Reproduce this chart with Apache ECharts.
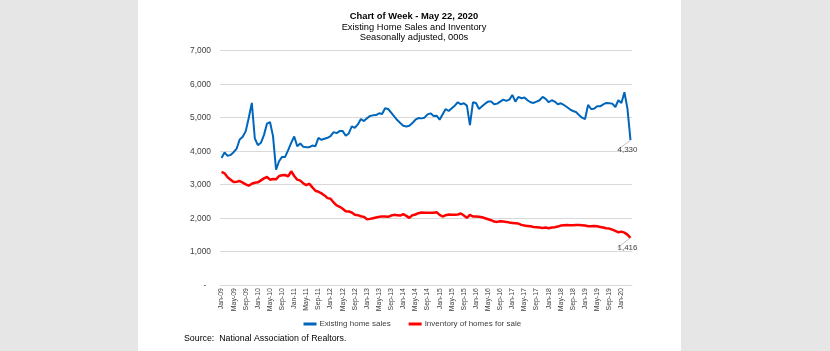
<!DOCTYPE html>
<html>
<head>
<meta charset="utf-8">
<script src="https://cdn.jsdelivr.net/npm/echarts@6/dist/echarts.min.js"></script>
<style>
  html, body { margin: 0; padding: 0; width: 830px; height: 351px; background: #e6e6e6; overflow: hidden; }
  #panel { position: absolute; left: 138px; top: 0; width: 543px; height: 351px; background: #ffffff; }
  #chart { position: absolute; left: 0; top: 0; width: 830px; height: 351px; }
</style>
</head>
<body>
<div id="panel"></div>
<div id="chart"></div>
<script>
// ---- Data (monthly, Jan-09 .. Apr-20), thousands, seasonally adjusted ----
const monthNames = ['Jan','Feb','Mar','Apr','May','Jun','Jul','Aug','Sep','Oct','Nov','Dec'];
const yearLabels = ['09','10','11','12','13','14','15','16','17','18','19','20'];
const lastYearMonths = 4; // data runs through Apr-20

const existingHomeSales = [
  3800, 3960, 3860, 3890, 3970, 4080, 4350, 4430, 4600, 5000, 5440, 4380,
  4180, 4250, 4480, 4820, 4870, 4450, 3450, 3700, 3830, 3830, 4030, 4250,
  4440, 4150, 4230, 4130, 4120, 4120, 4170, 4150, 4400, 4340, 4370, 4400,
  4450, 4570, 4540, 4600, 4600, 4460, 4530, 4740, 4700, 4800, 4960, 4900,
  4980, 5050, 5070, 5080, 5130, 5110, 5280, 5260, 5150, 5040, 4930, 4840,
  4760, 4740, 4760, 4840, 4940, 4990, 4980, 5000, 5100, 5130, 5050, 5060,
  4940, 5100, 5260, 5200, 5280, 5360, 5460, 5400, 5430, 5360, 4780, 5460,
  5440, 5260, 5340, 5420, 5480, 5480, 5400, 5420, 5480, 5540, 5500, 5540,
  5680, 5480, 5620, 5580, 5600, 5520, 5460, 5440, 5480, 5520, 5620, 5560,
  5460, 5520, 5480, 5400, 5430, 5380, 5320, 5250, 5200, 5170, 5080, 5000,
  4960, 5380, 5260, 5270, 5340, 5340, 5400, 5440, 5430, 5420, 5320, 5520,
  5440, 5760, 5270, 4330
];

const inventoryForSale = [
  3380, 3340, 3220, 3150, 3080, 3090, 3110, 3060, 3010, 2970, 3030, 3060,
  3070, 3130, 3190, 3230, 3150, 3170, 3160, 3260, 3280, 3290, 3250, 3400,
  3260, 3150, 3120, 3040, 2990, 3030, 2920, 2820, 2790, 2740, 2680, 2600,
  2580, 2470, 2380, 2340, 2280, 2210, 2200, 2170, 2100, 2090, 2060, 2040,
  1970, 1980, 2000, 2020, 2040, 2050, 2050, 2040, 2080, 2100, 2090, 2080,
  2120, 2070, 2010, 2090, 2110, 2150, 2170, 2160, 2160, 2160, 2160, 2180,
  2100, 2050, 2090, 2110, 2100, 2100, 2110, 2140, 2080, 2010, 2100, 2050,
  2050, 2040, 2030, 2000, 1970, 1940, 1900, 1890, 1910, 1900, 1890, 1870,
  1860, 1850, 1840, 1800, 1780, 1770, 1760, 1740, 1730, 1720, 1710, 1720,
  1700, 1720, 1730, 1750, 1780, 1790, 1800, 1790, 1790, 1800, 1800, 1790,
  1780, 1760, 1760, 1770, 1760, 1740, 1720, 1700, 1690, 1660, 1620, 1580,
  1600, 1570, 1510, 1416
];

const yTicks = [0, 1000, 2000, 3000, 4000, 5000, 6000, 7000];
const seriesNames = ['Existing home sales', 'Inventory of homes for sale'];
const titleLines = ['Chart of Week - May 22, 2020', 'Existing Home Sales and Inventory', 'Seasonally adjusted, 000s'];
const sourceText = 'Source:  National Association of Realtors.';

// ---- Build categories ----
const categories = [];
yearLabels.forEach((yy, yi) => {
  const n = (yi === yearLabels.length - 1) ? lastYearMonths : 12;
  for (let m = 0; m < n; m++) categories.push(monthNames[m] + '-' + yy);
});

const FONT = 'Liberation Sans, Arial, sans-serif';
function fmt(v) { return v.toLocaleString('en-US'); }

function withEndLabel(arr) {
  return arr.map((v, i) => i === arr.length - 1
    ? { value: v, label: { show: true, position: 'bottom', distance: 1,
        formatter: p => fmt(p.value), fontFamily: FONT,
        fontSize: 8, color: '#404040' } }
    : v);
}

const chart = echarts.init(document.getElementById('chart'), null, { renderer: 'canvas' });

function lineSeries(name, arr, color, width, z) {
  return {
    name, type: 'line', data: withEndLabel(arr),
    symbol: 'circle', symbolSize: 0, showSymbol: true, showAllSymbol: true,
    lineStyle: { color, width }, itemStyle: { color },
    labelLayout: { dx: -3, dy: 5 },
    labelLine: { show: true, lineStyle: { color: '#b0b0b0', width: 0.8 } },
    emphasis: { disabled: true },
    z
  };
}

const option = {
  backgroundColor: 'transparent',
  animation: false,
  title: [
    { text: titleLines[0], left: 409, top: 6.5, textAlign: 'center',
      textStyle: { fontFamily: FONT, fontSize: 9.4, fontWeight: 'bold', color: '#000' } },
    { text: titleLines[1], left: 409, top: 17.5, textAlign: 'center',
      textStyle: { fontFamily: FONT, fontSize: 9.3, fontWeight: 'normal', color: '#000' } },
    { text: titleLines[2], left: 409, top: 27.5, textAlign: 'center',
      textStyle: { fontFamily: FONT, fontSize: 9.3, fontWeight: 'normal', color: '#000' } }
  ],
  legend: {
    data: seriesNames,
    left: 298.5, top: 315,
    itemWidth: 13, itemHeight: 3, itemGap: 18,
    icon: 'rect',
    textStyle: { fontFamily: FONT, fontSize: 8, color: '#404040', padding: [0, 0, 0, -2] }
  },
  grid: { left: 220, right: 198, top: 50.7, bottom: 65.8, containLabel: false },
  xAxis: {
    type: 'category',
    data: categories,
    boundaryGap: true,
    axisLine: { show: true, lineStyle: { color: '#d9d9d9', width: 1 } },
    axisTick: { show: false },
    axisLabel: { interval: 3, rotate: 90, fontFamily: FONT, fontSize: 6.9, color: '#404040', margin: 3 },
    splitLine: { show: false }
  },
  yAxis: {
    type: 'value',
    min: yTicks[0], max: yTicks[yTicks.length - 1], interval: 1000,
    axisLine: { show: false },
    axisTick: { show: false },
    axisLabel: { fontFamily: FONT, fontSize: 8.4, color: '#404040', margin: 9,
      formatter: v => v === 0 ? '-  ' : fmt(v) },
    splitLine: { lineStyle: { color: '#d9d9d9', width: 1 } }
  },
  series: [
    lineSeries(seriesNames[0], existingHomeSales, '#0066bb', 2, 3),
    lineSeries(seriesNames[1], inventoryForSale, '#ff0000', 2.5, 2)
  ],
  graphic: [
    { type: 'text', left: 184, top: 334,
      style: { text: sourceText, fontFamily: FONT, fontSize: 8.8, fill: '#000' } }
  ]
};
chart.setOption(option);
</script>
</body>
</html>
